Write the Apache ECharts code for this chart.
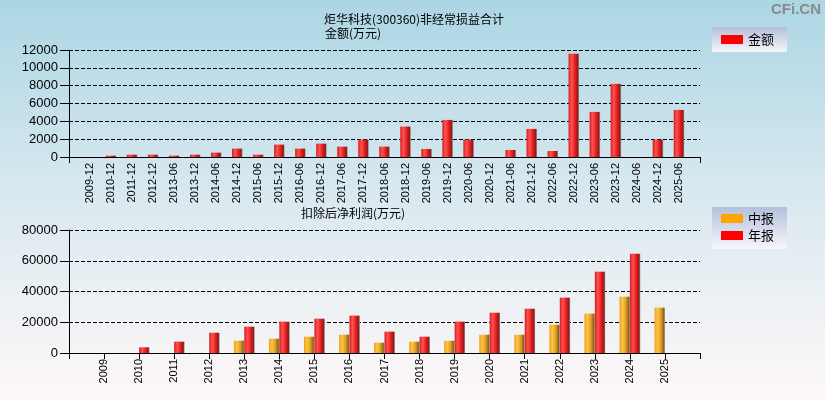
<!DOCTYPE html>
<html>
<head>
<meta charset="utf-8">
<script src="https://cdn.jsdelivr.net/npm/echarts@6/dist/echarts.min.js"></script>
<style>html,body{margin:0;padding:0;}#c{width:825px;height:400px;}</style>
</head>
<body>
<div id="c"></div>
<script>
var periods = ['2009-12','2010-12','2011-12','2012-12','2013-06','2013-12','2014-06','2014-12','2015-06','2015-12','2016-06','2016-12','2017-06','2017-12','2018-06','2018-12','2019-06','2019-12','2020-06','2020-12','2021-06','2021-12','2022-06','2022-12','2023-06','2023-12','2024-06','2024-12','2025-06'];
var amounts = [0,150,260,260,150,260,490,940,260,1390,940,1500,1160,1950,1160,3410,900,4160,1950,0,790,3150,675,11580,5060,8200,0,1950,5280];
var years = ['2009','2010','2011','2012','2013','2014','2015','2016','2017','2018','2019','2020','2021','2022','2023','2024','2025'];
var midReport = [null,null,null,null,8000,9300,10600,11900,6700,7370,8000,11900,11900,18400,25600,36600,29500];
var annualReport = [null,3700,7370,13200,17100,20400,22300,24300,13900,10600,20400,26200,28800,36000,52900,64600,null];
var topTicks = [0,2000,4000,6000,8000,10000,12000];
var bottomTicks = [0,20000,40000,60000,80000];

var cats1 = [''].concat(periods).concat(['']);
var cats2 = [''].concat(years).concat(['']);
function pad(a){ return [null].concat(a).concat([null]); }

var G = echarts.graphic.LinearGradient;
var redGrad = new G(0,0,1,0,[{offset:0,color:'#d81c1c'},{offset:0.3,color:'#ff5252'},{offset:0.65,color:'#e01a1a'},{offset:0.88,color:'#8c1c1c'},{offset:1,color:'#9a9a9a'}]);
var orGrad = new G(0,0,1,0,[{offset:0,color:'#f0a018'},{offset:0.3,color:'#ffc448'},{offset:0.65,color:'#d99a20'},{offset:0.88,color:'#8c6414'},{offset:1,color:'#9a9a9a'}]);
var legBg = new G(0,0,0,1,[{offset:0,color:'#b3bfdb'},{offset:1,color:'#f6f6fa'}]);

var axisTxt = {color:'#000', fontFamily:'Liberation Sans, Arial, sans-serif'};
function plain(v){ return String(v); }

var chart = echarts.init(document.getElementById('c'), null, {renderer:'canvas'});
chart.setOption({
  animation:false,
  backgroundColor: new G(0,0,0,1,[{offset:0,color:'#acd6e4'},{offset:0.5,color:'#dae9f0'},{offset:1,color:'#fef8f8'}]),
  title:[
    {text:'炬华科技(300360)非经常损益合计', left:319, top:8, textStyle:{fontSize:12, fontWeight:'normal', color:'#000', fontFamily:'Noto Sans CJK SC'}},
    {text:'金额(万元)', left:320, top:22, textStyle:{fontSize:12, fontWeight:'normal', color:'#000', fontFamily:'Noto Sans CJK SC'}},
    {text:'扣除后净利润(万元)', left:296, top:202, textStyle:{fontSize:12, fontWeight:'normal', color:'#000', fontFamily:'Noto Sans CJK SC'}}
  ],
  graphic:[
    {type:'text', right:4, top:2, style:{text:'CFi.CN', fill:'#8a8a8a', font:'bold 15px Liberation Sans, Arial, sans-serif'}}
  ],
  legend:[
    {data:[{name:'金额', icon:'rect', itemStyle:{color:'#ff0000'}}], left:712, top:27, orient:'vertical', itemWidth:22, itemHeight:9, itemGap:4,
     padding:[6,13,6,9], backgroundColor:legBg, textStyle:{fontSize:13, color:'#000', fontFamily:'Noto Sans CJK SC'}},
    {data:[{name:'中报', icon:'rect', itemStyle:{color:'#ffa500'}},{name:'年报', icon:'rect', itemStyle:{color:'#ff0000'}}], left:712, top:207, orient:'vertical', itemWidth:22, itemHeight:9, itemGap:4,
     padding:[5,13,7,9], backgroundColor:legBg, textStyle:{fontSize:13, color:'#000', fontFamily:'Noto Sans CJK SC'}}
  ],
  grid:[
    {left:69, right:125, top:50, height:107},
    {left:69, right:125, top:230, height:123}
  ],
  xAxis:[
    {type:'category', gridIndex:0, data:cats1, boundaryGap:false,
     axisLine:{lineStyle:{color:'#000', width:1}},
     axisTick:{length:6, lineStyle:{color:'#000'}, interval:function(i){return i===0||i===cats1.length-1;}},
     axisLabel:Object.assign({rotate:90, fontSize:11, margin:6, interval:0}, axisTxt),
     splitLine:{show:false}},
    {type:'category', gridIndex:1, data:cats2, boundaryGap:false,
     axisLine:{lineStyle:{color:'#000', width:1}},
     axisTick:{length:6, lineStyle:{color:'#000'}, interval:0},
     axisLabel:Object.assign({rotate:90, fontSize:11, margin:6, interval:0}, axisTxt),
     splitLine:{show:false}}
  ],
  yAxis:[
    {type:'value', gridIndex:0, min:topTicks[0], max:topTicks[topTicks.length-1], interval:2000,
     axisLine:{show:true, lineStyle:{color:'#000'}},
     axisTick:{show:true, length:9, lineStyle:{color:'#000'}},
     axisLabel:Object.assign({fontSize:13, margin:11, formatter:plain}, axisTxt),
     splitLine:{show:true, lineStyle:{color:'#000', type:[4,2], width:1}}},
    {type:'value', gridIndex:1, min:bottomTicks[0], max:bottomTicks[bottomTicks.length-1], interval:20000,
     axisLine:{show:true, lineStyle:{color:'#000'}},
     axisTick:{show:true, length:9, lineStyle:{color:'#000'}},
     axisLabel:Object.assign({fontSize:13, margin:11, formatter:plain}, axisTxt),
     splitLine:{show:true, lineStyle:{color:'#000', type:[4,2], width:1}}}
  ],
  series:[
    {name:'金额', type:'bar', xAxisIndex:0, yAxisIndex:0, data:pad(amounts), barWidth:10.5, itemStyle:{color:redGrad}},
    {name:'中报', type:'bar', xAxisIndex:1, yAxisIndex:1, data:pad(midReport), barWidth:10.4, barGap:'0%', itemStyle:{color:orGrad}},
    {name:'年报', type:'bar', xAxisIndex:1, yAxisIndex:1, data:pad(annualReport), barWidth:10.4, barGap:'0%', itemStyle:{color:redGrad}}
  ]
});
</script>
</body>
</html>
